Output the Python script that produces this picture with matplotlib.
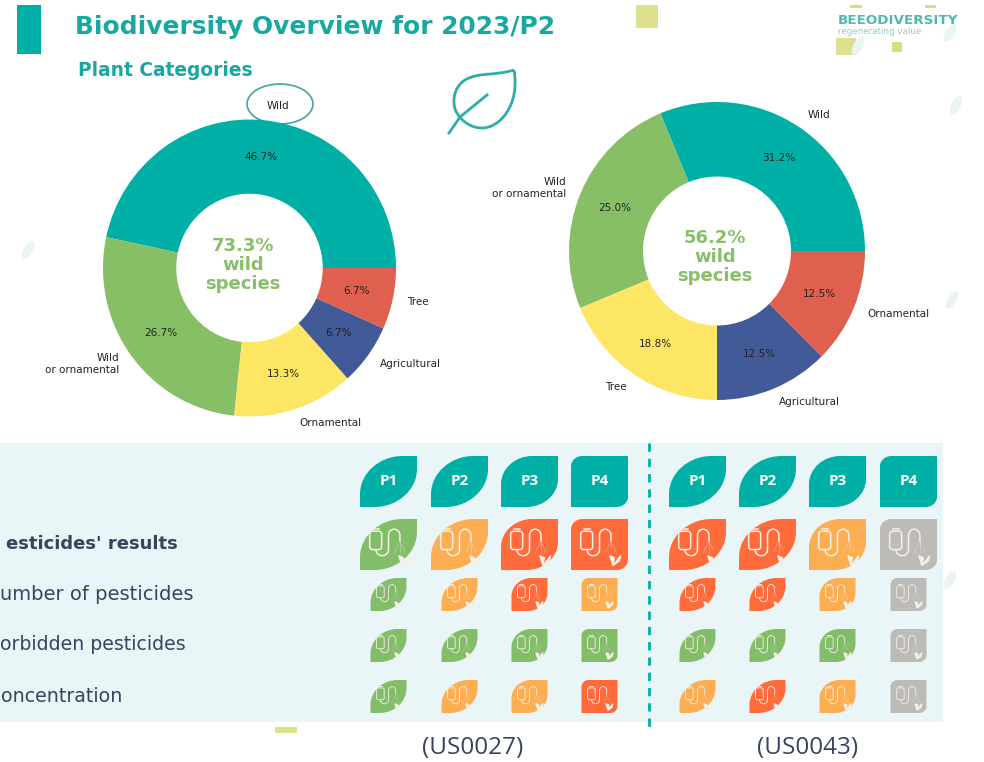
import numpy as np
from matplotlib import pyplot as plt
from matplotlib.path import Path
from matplotlib.patches import PathPatch, Rectangle, Ellipse, FancyBboxPatch

# plant category counts behind the two donuts
left_labels = ["Wild", "Wild\nor ornamental", "Ornamental", "Agricultural", "Tree"]
left_counts = [7, 4, 2, 1, 1]
left_colors = ["#00AFA5", "#87BF67", "#FDE664", "#425A97", "#E0604F"]
left_center = "73.3%\nwild\nspecies"

right_labels = ["Wild", "Wild\nor ornamental", "Tree", "Agricultural", "Ornamental"]
right_counts = [5, 4, 3, 2, 2]
right_colors = ["#00AFA5", "#87BF67", "#FDE664", "#425A97", "#E0604F"]
right_center = "56.2%\nwild\nspecies"

# pesticide table, row names start cropped in the source picture
row_labels = ["esticides' results", "umber of pesticides", "orbidden pesticides", "oncentration"]
period_labels = ["P1", "P2", "P3", "P4"]
site_labels = ["(US0027)", "(US0043)"]
# g = green, o = orange, r = red, n = no data
site_a_status = ["gorr", "goro", "gggg", "goor"]
site_b_status = ["rron", "rron", "gggn", "oron"]

status_colors = {"g": "#83BD69", "o": "#FDAE52", "r": "#FF6B3A", "n": "#BDBBB8"}
teal = "#00AFA5"
title_teal = "#17A8A0"
text_dark = "#39435F"

fig = plt.figure(figsize=(9.84, 7.62), dpi=100)
bg = fig.add_axes([0, 0, 1, 1])
bg.set_xlim(0, 984)
bg.set_ylim(762, 0)
bg.axis("off")


def leaf(x0, y0, x1, y1, color, round_frac=0.72):
	w = x1 - x0
	h = y1 - y0
	rx = w * round_frac
	ry = h * round_frac
	verts = [(x0, y1), (x0, y0 + ry), (x0, y0 + ry * 0.45), (x0 + rx * 0.45, y0), (x0 + rx, y0),
		(x1, y0), (x1, y1 - ry), (x1, y1 - ry * 0.45), (x1 - rx * 0.45, y1), (x1 - rx, y1), (x0, y1), (x0, y1)]
	codes = [Path.MOVETO, Path.LINETO, Path.CURVE4, Path.CURVE4, Path.CURVE4,
		Path.LINETO, Path.LINETO, Path.CURVE4, Path.CURVE4, Path.CURVE4, Path.LINETO, Path.CLOSEPOLY]
	bg.add_patch(PathPatch(Path(verts, codes), facecolor=color, edgecolor="none", zorder=3))


def pump_icon(x0, y0, x1, y1, lw):
	w = x1 - x0
	h = y1 - y0
	c = "#F4F0E6"
	tank = FancyBboxPatch((x0 + 0.17 * w, y0 + 0.24 * h), 0.21 * w, 0.36 * h,
		boxstyle="round,pad=0,rounding_size=%.1f" % (0.05 * w), facecolor="none", edgecolor=c, linewidth=lw, zorder=4)
	bg.add_patch(tank)
	bg.plot([x0 + 0.22 * w, x0 + 0.33 * w], [y0 + 0.19 * h, y0 + 0.19 * h], color=c, lw=lw, zorder=4)
	# tube: U below the tank, then an arch over to the nozzle
	t = np.linspace(np.pi, 0, 20)
	u_x = 0.39 + 0.11 * np.cos(t)
	u_y = 0.6 + 0.12 * np.sin(t)
	a_x = 0.6 + 0.1 * np.cos(t)
	a_y = 0.32 - 0.12 * np.sin(t)
	tube_x = np.concatenate([[0.28], u_x, a_x, [0.7]])
	tube_y = np.concatenate([[0.6], u_y, a_y, [0.42]])
	bg.plot(x0 + tube_x * w, y0 + tube_y * h, color=c, lw=lw, zorder=4)
	for end in [0.6, 0.7, 0.8]:
		bg.plot([x0 + 0.7 * w, x0 + end * w], [y0 + 0.42 * h, y0 + 0.68 * h], color=c, lw=lw * 0.5, ls=":", zorder=4)
	bg.fill([x0 + 0.74 * w, x0 + 0.68 * w, x0 + 0.76 * w], [y0 + 0.92 * h, y0 + 0.72 * h, y0 + 0.76 * h], color=c, zorder=4)
	bg.fill([x0 + 0.75 * w, x0 + 0.87 * w, x0 + 0.85 * w], [y0 + 0.9 * h, y0 + 0.72 * h, y0 + 0.82 * h], color=c, zorder=4)


# background decorations
for x0, y0, x1, y1, col in [(636, 5, 658, 28, "#DDE08F"), (836, 38, 856, 55, "#DDE08F"), (892, 42, 902, 52, "#CFE27F"),
		(850, 5, 862, 8, "#CFE27F"), (925, 5, 936, 8, "#CFE27F"), (275, 727, 297, 733, "#DDE08F")]:
	bg.add_patch(Rectangle((x0, y0), x1 - x0, y1 - y0, facecolor=col, edgecolor="none"))
for x, y in [(28, 250), (956, 105), (952, 300), (950, 580), (858, 46), (950, 33)]:
	bg.add_patch(Ellipse((x, y), 9, 20, angle=30, facecolor="#EAF4F3", edgecolor="none"))

# header
bg.add_patch(Rectangle((17, 5), 24, 49, facecolor=teal, edgecolor="none"))
bg.text(75, 27, "Biodiversity Overview for 2023/P2", color=title_teal, fontsize=17.9, fontweight="bold", ha="left", va="center")
bg.text(78, 70, "Plant Categories", color=title_teal, fontsize=13.4, fontweight="bold", ha="left", va="center")
bg.text(838, 20, "BEEODIVERSITY", color="#4FB9AE", fontsize=9.7, fontweight="bold", ha="left", va="center")
bg.text(838, 31, "regenerating value", color="#8FD0C8", fontsize=6.3, ha="left", va="center")

# leaf outline next to the title
leaf_path = Path([(514, 70), (495, 76), (478, 72), (465, 80), (452, 88), (452, 106), (457, 113),
	(462, 122), (472, 128), (482, 128), (500, 128), (520, 105), (514, 70)],
	[Path.MOVETO] + [Path.CURVE4] * 12)
bg.add_patch(PathPatch(leaf_path, facecolor="none", edgecolor="#2FAEA6", linewidth=2))
bg.plot([449, 460, 487], [133, 117, 95], color="#2FAEA6", lw=2)


def donut(cx, cy, rx, ry, values, labels, colors, center, text_x, text_y):
	pad = 1.6
	ax = fig.add_axes([(cx - rx * pad) / 984, 1 - (cy + ry * pad) / 762, 2 * rx * pad / 984, 2 * ry * pad / 762], zorder=2)
	ax.patch.set_alpha(0)
	ax.pie(values, labels=labels, colors=colors, autopct="%.1f%%", pctdistance=0.75,
		labeldistance=1.1, startangle=0, radius=1, wedgeprops={"width": 0.5}, textprops={"fontsize": 7.5, "color": "#222222"})
	ax.set_aspect("auto")
	ax.set_xlim(-pad, pad)
	ax.set_ylim(-pad, pad)
	bg.text(text_x, text_y, center, color="#88BF6A", fontsize=13, fontweight="bold", ha="center", va="center", linespacing=1.08)


donut(249.5, 268, 146.5, 148.5, left_counts, left_labels, left_colors, left_center, 243, 265)
donut(717, 251, 148, 149, right_counts, right_labels, right_colors, right_center, 715, 257)

bg.add_patch(Ellipse((280, 104), 66, 40, facecolor="none", edgecolor="#4FA9A4", linewidth=1.3, zorder=5))

# table panel
bg.add_patch(Rectangle((0, 443), 943, 279, facecolor="#EAF5F7", edgecolor="none", zorder=1))
bg.plot([649, 649], [443, 733], color=teal, lw=2, ls=(0, (3, 2.5)), zorder=2)

label_right = [178, 193, 186, 122]
label_y = [544, 595, 645, 696]
label_size = [13.0, 14.0, 13.6, 13.7]
for i, name in enumerate(row_labels):
	bg.text(label_right[i], label_y[i], name, color=text_dark, fontsize=label_size[i], ha="right", va="center",
		fontweight="bold" if i == 0 else "normal", zorder=3)

col_x = [[360, 431, 501, 571], [669, 739, 809, 880]]
col_round = [0.75, 0.75, 0.55, 0.2]
big_w = 57
small_w = 36
row_top = [519, 578, 629, 680]
row_h = [51, 33, 33, 33]
for site, status in enumerate([site_a_status, site_b_status]):
	for j, p in enumerate(period_labels):
		x0 = col_x[site][j]
		leaf(x0, 456, x0 + big_w, 507, teal, col_round[j])
		bg.text(x0 + big_w / 2, 481, p, color="white", fontsize=11, fontweight="bold", ha="center", va="center",
			family="Open Sans", zorder=4)
		for i in range(4):
			c = status[i][j]
			if i == 0:
				sx0, sx1 = x0, x0 + big_w
			else:
				sx0 = x0 + (big_w - small_w) / 2
				sx1 = sx0 + small_w
			leaf(sx0, row_top[i], sx1, row_top[i] + row_h[i], status_colors[c], col_round[j])
			pump_icon(sx0, row_top[i], sx1, row_top[i] + row_h[i], 1.1 if i == 0 else 0.6)

bg.text(473, 748, site_labels[0], color=text_dark, fontsize=17.5, family="Open Sans", ha="center", va="center")
bg.text(808, 748, site_labels[1], color=text_dark, fontsize=17.5, family="Open Sans", ha="center", va="center")

fig.savefig("out.png", dpi=100)
